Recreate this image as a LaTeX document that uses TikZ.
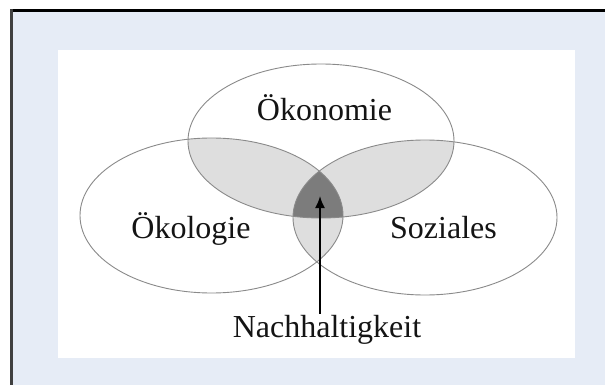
\documentclass[tikz,border=0pt]{standalone}
\usepackage{fontspec}
\setmainfont{Liberation Serif}
\usetikzlibrary{arrows.meta}
\definecolor{panelbg}{HTML}{E6ECF6}
\definecolor{lightshade}{HTML}{DEDEDE}
\definecolor{darkshade}{HTML}{7C7C7C}
\definecolor{ringline}{HTML}{8A8A8A}
\tikzset{
  label/.style={font=\fontsize{32}{38}\selectfont, inner sep=0pt, anchor=base, text=black!92},
  ring/.style={draw=ringline, line width=0.9pt},
  pointer/.style={line width=1.8pt, -{Latex[length=12pt,width=10pt]}},
}
\newcommand{\ecoA}{(321,141) ellipse [x radius=133, y radius=77]}
\newcommand{\ecoB}{(211.5,215.5) ellipse [x radius=131.5, y radius=77.5]}
\newcommand{\ecoC}{(425,217.5) ellipse [x radius=132, y radius=77.5]}
\begin{document}
\begin{tikzpicture}[x=1pt,y=-1pt]
  \useasboundingbox (0,0) rectangle (605,385);
  % frame and panel
  \fill[white] (0,0) rectangle (605,385);
  \fill[panelbg] (10,10) rectangle (605,385);
  \fill[black] (10,9.5) rectangle (605,12.5);
  \fill[black!75] (10,9.5) rectangle (12.5,385);
  \fill[white] (58,50) rectangle (575,358);
  % pairwise overlaps
  \begin{scope}
    \clip \ecoA;
    \fill[lightshade] \ecoB;
    \fill[lightshade] \ecoC;
  \end{scope}
  \begin{scope}
    \clip \ecoB;
    \fill[lightshade] \ecoC;
  \end{scope}
  % triple overlap
  \begin{scope}
    \clip \ecoA;
    \clip \ecoB;
    \fill[darkshade] \ecoC;
  \end{scope}
  % outlines
  \draw[ring] \ecoA;
  \draw[ring] \ecoB;
  \draw[ring] \ecoC;
  % labels
  \node[label] (oekonomie) at (324.5,121) {Ökonomie};
  \node[label] (oekologie) at (191,238) {Ökologie};
  \node[label] (soziales) at (443.5,238) {Soziales};
  \node[label] (nach) at (327,337) {Nachhaltigkeit};
  \coordinate (core) at (320,196);
  \draw[pointer] (nach.north -| core) ++(0,-1) -- (core);
\end{tikzpicture}
\end{document}
